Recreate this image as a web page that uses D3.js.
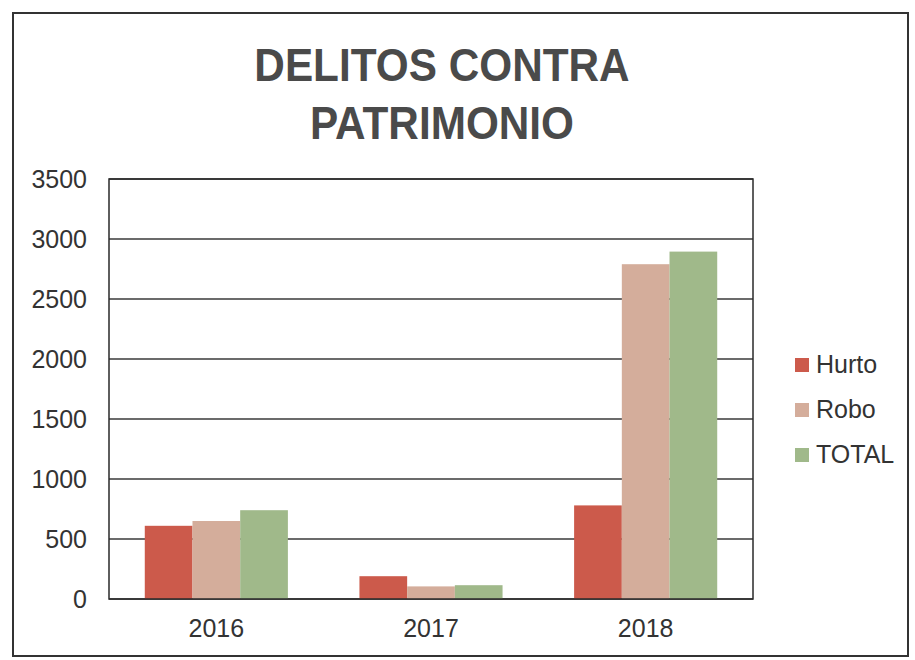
<!DOCTYPE html>
<html>
<head>
<meta charset="utf-8">
<script src="https://cdn.jsdelivr.net/npm/d3@7"></script>
<style>
  html, body { margin: 0; padding: 0; background: #ffffff; }
  svg { display: block; font-family: "Liberation Sans", Arial, sans-serif; }
</style>
</head>
<body>
<svg id="chart" width="915" height="660"></svg>
<script>
// ---- data ----
const titleLines = ["DELITOS CONTRA", "PATRIMONIO"];
const categories = ["2016", "2017", "2018"];
const seriesNames = ["Hurto", "Robo", "TOTAL"];
const hurto = [610, 190, 780];
const robo = [650, 105, 2790];
const total = [740, 115, 2895];
const yTicks = [0, 500, 1000, 1500, 2000, 2500, 3000, 3500];
const seriesColors = ["#cc5a4b", "#d4ad9b", "#a0b98a"];

const seriesValues = [hurto, robo, total];

// ---- layout ----
const svg = d3.select("#chart");
const plot = { left: 109, right: 753, top: 179, bottom: 599 };

// outer frame
svg.append("rect")
  .attr("x", 13).attr("y", 13)
  .attr("width", 895).attr("height", 643)
  .attr("fill", "#ffffff")
  .attr("stroke", "#333333").attr("stroke-width", 2);

// title
const title = svg.append("g")
  .attr("transform", "translate(442,0) scale(0.92,1)");
title.selectAll("text").data(titleLines).enter().append("text")
  .attr("x", 0)
  .attr("y", (d, i) => 81 + i * 58)
  .attr("text-anchor", "middle")
  .attr("font-size", 46)
  .attr("font-weight", "bold")
  .attr("fill", "#4a4a4a")
  .text(d => d);

// scales
const x = d3.scaleBand()
  .domain(categories)
  .range([plot.left, plot.right])
  .paddingInner(1 / 3)
  .paddingOuter(1 / 6);

const xs = d3.scaleBand()
  .domain(seriesNames)
  .range([0, x.bandwidth()])
  .padding(0);

const y = d3.scaleLinear()
  .domain([0, 3500])
  .range([plot.bottom, plot.top]);

// gridlines
svg.append("g").selectAll("line")
  .data(yTicks).enter().append("line")
  .attr("x1", plot.left).attr("x2", plot.right)
  .attr("y1", d => y(d)).attr("y2", d => y(d))
  .attr("stroke", "#3a3a3a").attr("stroke-width", 1.5);

// bars
const rows = [];
categories.forEach((c, ci) => {
  seriesNames.forEach((s, si) => {
    rows.push({ cat: c, series: s, si: si, value: seriesValues[si][ci] });
  });
});

svg.append("g").selectAll("rect")
  .data(rows).enter().append("rect")
  .attr("x", d => x(d.cat) + xs(d.series))
  .attr("y", d => y(d.value))
  .attr("width", xs.bandwidth())
  .attr("height", d => y(0) - y(d.value))
  .attr("fill", d => seriesColors[d.si]);

// plot border
svg.append("rect")
  .attr("x", plot.left).attr("y", plot.top)
  .attr("width", plot.right - plot.left)
  .attr("height", plot.bottom - plot.top)
  .attr("fill", "none")
  .attr("stroke", "#2a2a2a").attr("stroke-width", 1.5);

// y axis labels
const yAxis = d3.axisLeft(y).tickValues(yTicks).tickFormat(d3.format("d")).tickSize(0).tickPadding(22);
const yg = svg.append("g")
  .attr("transform", `translate(${plot.left},0)`)
  .call(yAxis);
yg.select(".domain").remove();
yg.selectAll("text")
  .attr("font-size", 25)
  .attr("font-family", "Liberation Sans, Arial, sans-serif")
  .attr("fill", "#333333");

// x axis labels
const xAxis = d3.axisBottom(x).tickSize(0).tickPadding(20);
const xg = svg.append("g")
  .attr("transform", `translate(0,${plot.bottom})`)
  .call(xAxis);
xg.select(".domain").remove();
xg.selectAll("text")
  .attr("font-size", 25)
  .attr("font-family", "Liberation Sans, Arial, sans-serif")
  .attr("fill", "#333333");

// legend
const legend = svg.append("g").attr("transform", "translate(795,0)");
const li = legend.selectAll("g").data(seriesNames).enter().append("g")
  .attr("transform", (d, i) => `translate(0,${373 + i * 45})`);
li.append("rect")
  .attr("x", 0).attr("y", -15)
  .attr("width", 14).attr("height", 14)
  .attr("fill", (d, i) => seriesColors[i]);
li.append("text")
  .attr("x", 21).attr("y", 0)
  .attr("font-size", 25)
  .attr("fill", "#333333")
  .text(d => d);
</script>
</body>
</html>
